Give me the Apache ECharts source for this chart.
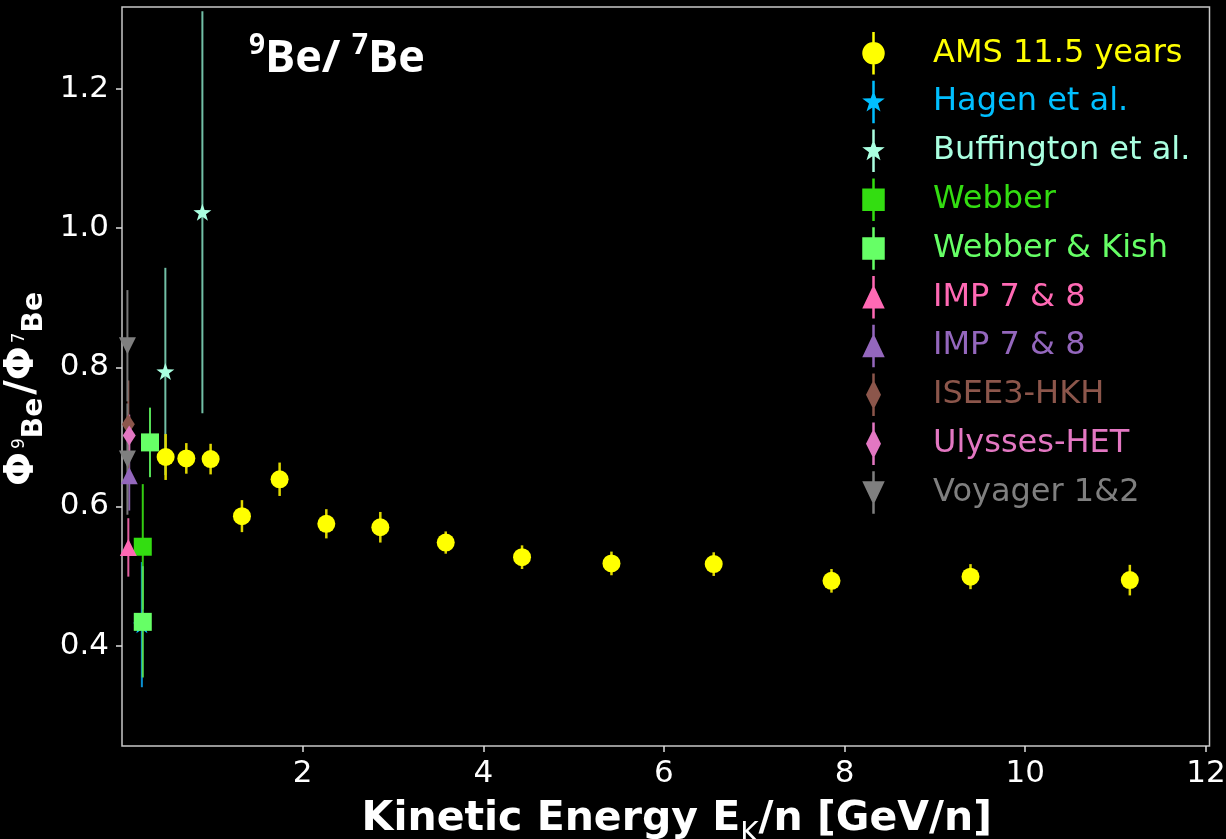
<!DOCTYPE html>
<html><head><meta charset="utf-8">
<script src="https://cdn.jsdelivr.net/npm/echarts@6/dist/echarts.min.js"></script>
<style>html,body{margin:0;padding:0;background:#000}#c{width:1226px;height:839px}</style>
</head><body><div id="c"></div>
<script>
// ---- data ----
const amsX = [0.483,0.712,0.981,1.328,1.745,2.262,2.860,3.584,4.429,5.419,6.551,7.855,9.394,11.158];
const amsY = [0.671,0.669,0.668,0.586,0.639,0.575,0.570,0.548,0.527,0.518,0.517,0.493,0.499,0.494];
const amsErr = [0.033,0.022,0.022,0.023,0.024,0.021,0.022,0.016,0.017,0.017,0.017,0.017,0.018,0.022];
const hagenX = [0.22], hagenY = [0.43], hagenErr = [0.09];
const buffX = [0.48,0.89], buffY = [0.794,1.023], buffErr = [0.149,0.289];
const webberX = [0.23], webberY = [0.542], webberErr = [0.09];
const wkX = [0.31,0.23], wkY = [0.692,0.434], wkErr = [0.05,0.08];
const imp1X = [0.07], imp1Y = [0.541], imp1Err = [0.042];
const imp2X = [0.08], imp2Y = [0.644], imp2Err = [0.05];
const iseeX = [0.07], iseeY = [0.718], iseeErr = [0.063];
const ulyX = [0.08], ulyY = [0.702], ulyErr = [0.03];
const voyX = [0.06,0.06], voyY = [0.831,0.668], voyErr = [0.08,0.08];
const xTicks = [2,4,6,8,10,12];
const yTicks = [0.4,0.6,0.8,1.0,1.2];
const legendNames = ['AMS 11.5 years','Hagen et al.','Buffington et al.','Webber','Webber & Kish','IMP 7 & 8','IMP 7 & 8 ','ISEE3-HKH','Ulysses-HET','Voyager 1&2'];

// ---- styles ----
const BOX = 'M0,0 L0,0 M20,34 L20,34 ';
const BAR = 'M9,0 L11,0 L11,34 L9,34 Z ';
const ICONS = {
  circle: 'path://' + BOX + BAR + 'M10,8 A9,9 0 1 1 10,26 A9,9 0 1 1 10,8 Z',
  star: 'path://' + BOX + BAR + 'M10,7.5 L12.2,13.9 L19,14.1 L13.6,18.1 L15.6,24.6 L10,20.7 L4.4,24.6 L6.4,18.1 L1,14.1 L7.8,13.9 Z',
  square: 'path://' + BOX + BAR + 'M1,8 L19,8 L19,26 L1,26 Z',
  triangle: 'path://' + BOX + BAR + 'M10,7 L19,26 L1,26 Z',
  diamond: 'path://' + BOX + BAR + 'M10,5 L16,17 L10,29 L4,17 Z',
  tridown: 'path://' + BOX + BAR + 'M1,8 L19,8 L10,27 Z'
};
const STAR = 'path://M10,8 L11.65,12.73 L16.66,12.84 L12.66,15.87 L14.11,20.66 L10,17.8 L5.89,20.66 L7.34,15.87 L3.34,12.84 L8.35,12.73 Z';

const sets = [
  {x:hagenX, y:hagenY, e:hagenErr, color:'#00bfff', bar:'#0a8fd0', symbol:STAR, size:[18,17], icon:'star', lw:2, z:2},
  {x:buffX, y:buffY, e:buffErr, color:'#aaffe0', bar:'#72bfa6', symbol:STAR, size:[18,17], icon:'star', lw:2, z:2},
  {x:webberX, y:webberY, e:webberErr, color:'#33dd11', bar:'#33cc11', symbol:'rect', size:18, icon:'square', lw:2, z:2},
  {x:wkX, y:wkY, e:wkErr, color:'#66ff66', bar:'#55dd55', symbol:'rect', size:18, icon:'square', lw:2, z:2},
  {x:imp1X, y:imp1Y, e:imp1Err, color:'#ff69b4', bar:'#e0609f', symbol:'triangle', size:[17,17], icon:'triangle', lw:2, z:2},
  {x:imp2X, y:imp2Y, e:imp2Err, color:'#9467bd', bar:'#8a62b0', symbol:'triangle', size:[17,17], icon:'triangle', lw:2, z:2},
  {x:iseeX, y:iseeY, e:iseeErr, color:'#8c564b', bar:'#8c564b', symbol:'diamond', size:[13,20], icon:'diamond', lw:2, z:2},
  {x:ulyX, y:ulyY, e:ulyErr, color:'#e377c2', bar:'#d070b0', symbol:'diamond', size:[13,20], icon:'diamond', lw:2, z:2},
  {x:voyX, y:voyY, e:voyErr, color:'#7f7f7f', bar:'#777777', symbol:'triangle', rot:180, size:[17,17], icon:'tridown', lw:2, z:2},
  {x:amsX, y:amsY, e:amsErr, color:'#ffff00', bar:'#e0d800', symbol:'circle', size:18, icon:'circle', lw:2.5, z:4}
];
const nameIdx = [1,2,3,4,5,6,7,8,9,0];
sets.forEach((s,i)=>{ s.name = legendNames[nameIdx[i]]; });

const series = [];
sets.forEach(s=>{
  series.push({
    type:'custom', name:s.name, z:s.z, silent:true, clip:true,
    data: s.x.map((x,i)=>[x, s.y[i]-s.e[i], s.y[i]+s.e[i]]),
    encode:{x:0, y:[1,2]},
    renderItem:(params, api)=>{
      const p1 = api.coord([api.value(0), api.value(1)]);
      const p2 = api.coord([api.value(0), api.value(2)]);
      return {type:'line', shape:{x1:p1[0], y1:p1[1], x2:p2[0], y2:p2[1]}, style:{stroke:s.bar, lineWidth:s.lw}};
    }
  });
  series.push({
    type:'scatter', name:s.name, z:s.z+0.5, silent:true,
    data: s.x.map((x,i)=>[x, s.y[i]]),
    symbol:s.symbol, symbolSize:s.size, symbolRotate:s.rot||0, symbolKeepAspect:false,
    itemStyle:{color:s.color, opacity:1}
  });
});

const legendData = legendNames.map(n=>{
  const s = sets.find(t=>t.name===n);
  return {name:n, icon:ICONS[s.icon], itemStyle:{color:s.color}, textStyle:{color:s.color}};
});

const chart = echarts.init(document.getElementById('c'), null, {renderer:'canvas'});
chart.setOption({
  backgroundColor:'#000',
  animation:false,
  title:{
    text:'{s|9}{b|Be/ }{s|7}{b|Be}',
    left:244, top:27,
    textStyle:{rich:{
      b:{fontFamily:'Open Sans', fontWeight:'bold', fontSize:45, color:'#fff', verticalAlign:'bottom', lineHeight:50},
      s:{fontFamily:'Open Sans', fontWeight:'bold', fontSize:28, color:'#fff', verticalAlign:'top', lineHeight:30}
    }}
  },
  grid:{left:122, right:16.5, top:7, bottom:93, show:true, borderColor:'#c8c8c8', borderWidth:1.5, containLabel:false, outerBoundsMode:'none'},
  legend:{
    orient:'vertical', left:856, top:27,
    itemWidth:25, itemHeight:43, itemGap:6.3,
    data:legendData, selectedMode:false,
    textStyle:{fontFamily:'DejaVu Sans', fontSize:32, lineHeight:34, padding:[0,0,0,42]}
  },
  xAxis:{
    type:'value', min:0, max:12.04,
    axisLine:{show:false},
    splitLine:{show:false},
    axisTick:{show:true, customValues:xTicks, length:6, lineStyle:{color:'#ddd', width:1.5}},
    axisLabel:{customValues:xTicks, color:'#fff', fontFamily:'DejaVu Sans', fontSize:31, margin:12},
    name:'{t|Kinetic Energy E}{k|K}{t|/n [GeV/n]}',
    nameLocation:'middle', nameGap:46,
    nameTextStyle:{padding:[0,0,0,22], rich:{
      t:{fontFamily:'DejaVu Sans', fontWeight:'bold', fontSize:41, color:'#fff', verticalAlign:'bottom', lineHeight:48},
      k:{fontFamily:'DejaVu Sans', fontWeight:'normal', fontSize:28, color:'#fff', verticalAlign:'bottom', lineHeight:48, padding:[0,0,-9,0]}
    }}
  },
  yAxis:{
    type:'value', min:0.2555, max:1.318,
    axisLine:{show:false},
    splitLine:{show:false},
    axisTick:{show:true, customValues:yTicks, length:6, lineStyle:{color:'#ddd', width:1.5}},
    axisLabel:{customValues:yTicks, color:'#fff', fontFamily:'DejaVu Sans', fontSize:31, margin:13, formatter:v=>v.toFixed(1)},
    name:'{p|Φ}{s|9}{b|Be}{p|/Φ}{s|7}{b|Be}{g| }',
    nameLocation:'middle', nameRotate:90, nameGap:75,
    nameTextStyle:{rich:{
      p:{fontFamily:'DejaVu Sans', fontWeight:'bold', fontSize:40, color:'#fff', verticalAlign:'bottom', lineHeight:46},
      b:{fontFamily:'DejaVu Sans', fontWeight:'bold', fontSize:28, color:'#fff', verticalAlign:'bottom', lineHeight:46, padding:[0,3,-6,0]},
      s:{fontFamily:'DejaVu Sans', fontWeight:'normal', fontSize:17, color:'#fff', verticalAlign:'middle', lineHeight:46, padding:[0,0,0,3]},
      g:{fontSize:10, width:22, lineHeight:46}
    }}
  },
  series:series
});
</script></body></html>
